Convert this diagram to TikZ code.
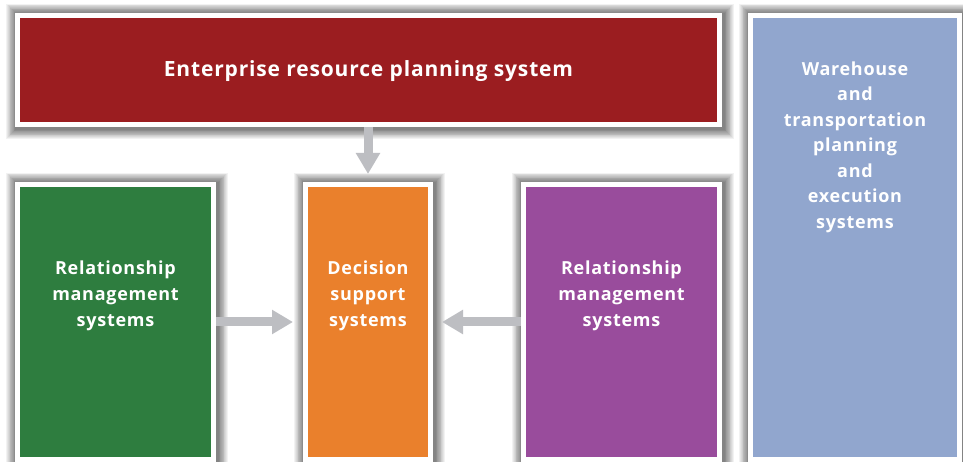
\documentclass[tikz,border=0pt]{standalone}
\usepackage{fontspec}
\newfontfamily\diagfont{Open Sans}[LetterSpace=4]
\usetikzlibrary{arrows.meta}
\definecolor{erpred}{RGB}{155,29,32}
\definecolor{crmgreen}{RGB}{46,125,63}
\definecolor{dssorange}{RGB}{234,128,44}
\definecolor{srmpurple}{RGB}{153,76,156}
\definecolor{whblue}{RGB}{145,166,206}
\definecolor{arrowgray}{RGB}{189,190,194}
\pgfdeclarelayer{bg}
\pgfsetlayers{bg,main}
\tikzset{
  sysbox/.style={draw=white, line width=5bp, rectangle, inner sep=0pt},
  boxtext/.style={text=white, align=center, font=\diagfont\bfseries\fontsize{18bp}{25.8bp}\selectfont, inner sep=0pt},
  bigtext/.style={text=white, font=\diagfont\bfseries\fontsize{21bp}{26bp}\selectfont, inner sep=0pt},
  flowarrow/.style={draw=arrowgray, line width=9bp, -{Triangle[width=23bp,length=21bp]}},
}
\newcommand{\boxshadow}[1]{%
  \begin{pgfonlayer}{bg}
  \foreach \i in {1,...,12} {
    \fill[black, opacity=0.05]
      ([shift={(-0.8*\i bp+1bp,0.8*\i bp-0.5bp)}]#1.north west) rectangle ([shift={(0.8*\i bp+2bp,-0.8*\i bp-2bp)}]#1.south east);
  }
  \end{pgfonlayer}}
\begin{document}
\begin{tikzpicture}[x=1bp,y=-1bp]
\useasboundingbox (0,0) rectangle (963,462);
\begin{pgfonlayer}{bg}
\fill[white] (0,0) rectangle (963,462);
\end{pgfonlayer}
% boxes
\node[sysbox, fill=erpred, minimum width=702bp, minimum height=109bp] (erp) at (368.5,70) {};
\node[sysbox, fill=crmgreen, minimum width=196bp, minimum height=275bp] (crm) at (115.5,322) {};
\node[sysbox, fill=dssorange, minimum width=125bp, minimum height=275bp] (dss) at (368,322) {};
\node[sysbox, fill=srmpurple, minimum width=196bp, minimum height=275bp] (srm) at (621.5,322) {};
\node[sysbox, fill=whblue, minimum width=209bp, minimum height=444bp] (wh) at (855,237.5) {};
\boxshadow{erp}
\boxshadow{crm}
\boxshadow{dss}
\boxshadow{srm}
\boxshadow{wh}
% texts
\node[bigtext] (erptext) at ([yshift=-1bp]erp) {Enterprise resource planning system};
\node[boxtext] (crmtext) at ([yshift=-114bp]crm.north) {Relationship\\management\\systems};
\node[boxtext] (dsstext) at ([yshift=-114bp]dss.north) {Decision\\support\\systems};
\node[boxtext] (srmtext) at ([yshift=-114bp]srm.north) {Relationship\\management\\systems};
\node[boxtext, font=\diagfont\bfseries\fontsize{18bp}{25.5bp}\selectfont] (whtext) at ([yshift=-134bp]wh.north) {Warehouse\\and\\transportation\\planning\\and\\execution\\systems};
% arrows
\draw[flowarrow, shorten >=8bp] (erp.south -| dss.north) -- (dss.north);
\draw[flowarrow, shorten >=10bp] (crm.east) -- (dss.west);
\draw[flowarrow, shorten >=9bp] (srm.west) -- (dss.east);
\end{tikzpicture}
\end{document}
